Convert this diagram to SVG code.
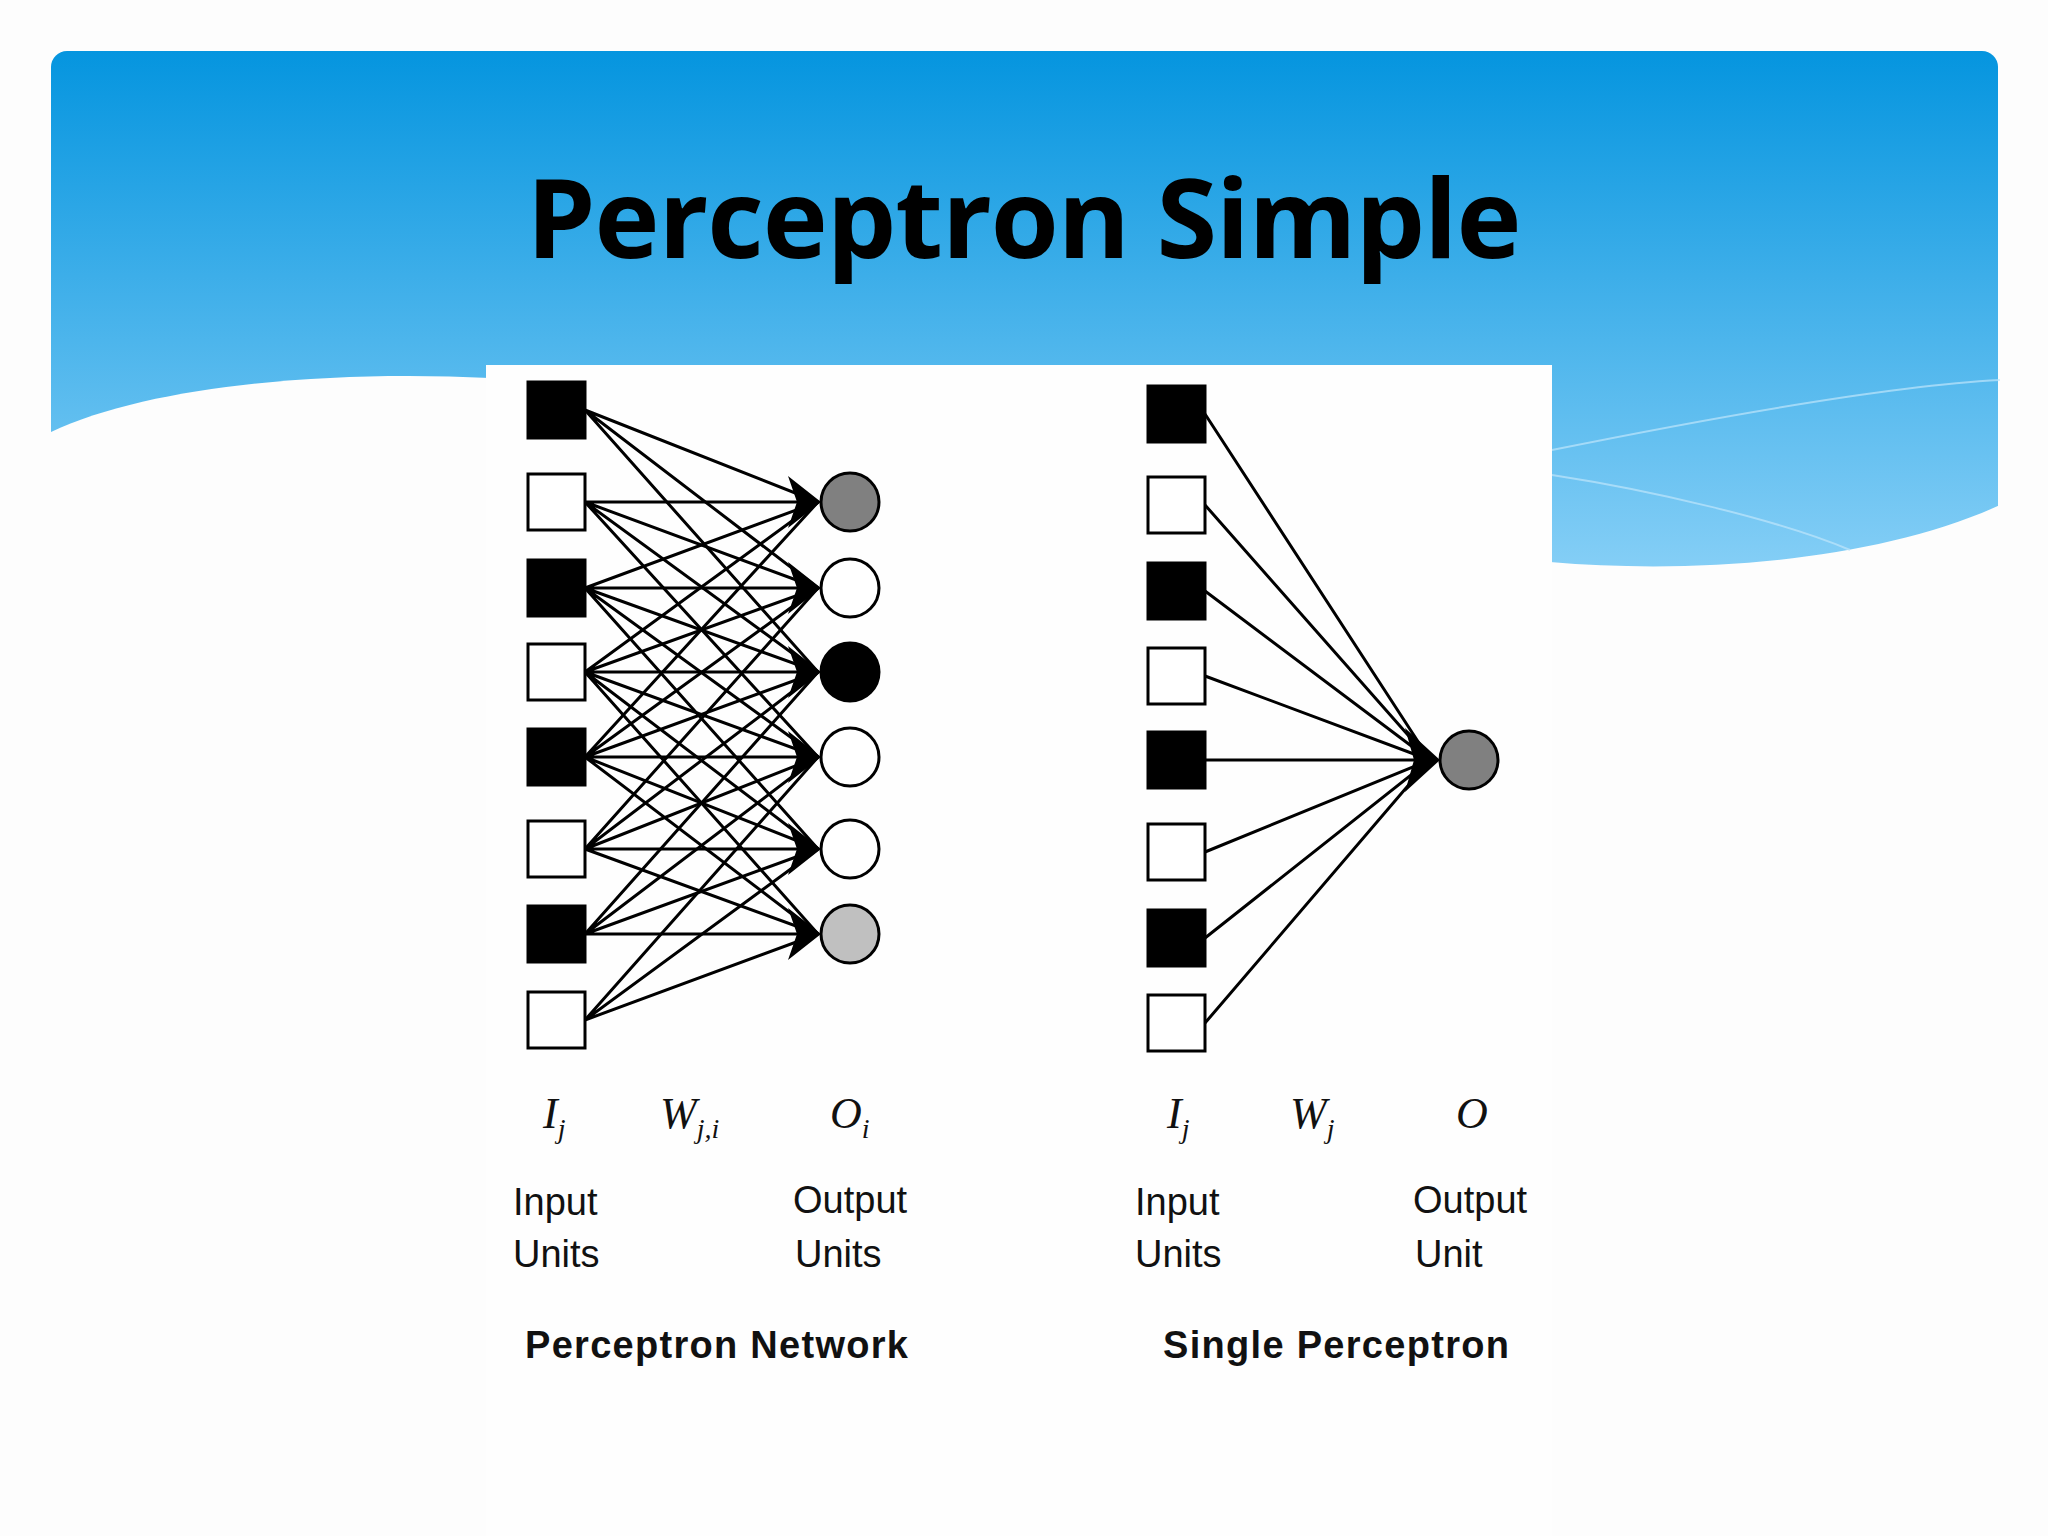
<svg xmlns="http://www.w3.org/2000/svg" width="2048" height="1536" viewBox="0 0 2048 1536">
<defs>
<linearGradient id="bg" x1="0" y1="0" x2="0" y2="1">
<stop offset="0" stop-color="#0595df"/>
<stop offset="1" stop-color="#8fd3f8"/>
</linearGradient>
<style>
.ln{stroke:#000;stroke-width:3;fill:none}
.sq{stroke:#000;stroke-width:3}
.ci{stroke:#000;stroke-width:3}
.it{font-family:"Liberation Serif",serif;font-style:italic;font-size:44px;fill:#111}
.sub{font-family:"Liberation Serif",serif;font-style:italic;font-size:28px;fill:#111}
.lb{font-family:"Liberation Sans",Arial,sans-serif;font-size:38px;fill:#111}
.bd{font-family:"Liberation Sans",Arial,sans-serif;font-weight:bold;font-size:38px;fill:#111}
</style>
</defs>
<rect width="2048" height="1536" fill="#fdfdfd"/>
<rect x="51" y="51" width="1947" height="560" rx="16" fill="url(#bg)"/>
<path d="M51,432 C150,385 330,370 490,378 L490,1536 L51,1536 Z" fill="#fdfdfd"/>
<path d="M1550,562 C1700,575 1880,560 2000,505 L2000,1536 L1550,1536 Z" fill="#fdfdfd"/>
<path d="M1552,450 C1750,410 1900,385 2000,380" stroke="#bfe6fb" stroke-width="2" fill="none" opacity="0.7"/>
<path d="M1552,475 C1650,490 1780,520 1850,550" stroke="#bfe6fb" stroke-width="2" fill="none" opacity="0.7"/>
<rect x="486" y="365" width="1066" height="1171" fill="#fefefe"/>
<text x="1024" y="258" text-anchor="middle" font-family="Open Sans,sans-serif" font-weight="bold" font-size="110" textLength="995" fill="#000">Perceptron Simple</text>

<g id="connectors">
<path class="ln" d="M585,410 L818,502 M585,410 L818,588 M585,410 L818,672"/>
<path class="ln" d="M585,502 L818,502 M585,502 L818,588 M585,502 L818,672 M585,502 L818,757"/>
<path class="ln" d="M585,588 L818,502 M585,588 L818,588 M585,588 L818,672 M585,588 L818,757 M585,588 L818,849"/>
<path class="ln" d="M585,672 L818,502 M585,672 L818,588 M585,672 L818,672 M585,672 L818,757 M585,672 L818,849 M585,672 L818,934"/>
<path class="ln" d="M585,757 L818,502 M585,757 L818,588 M585,757 L818,672 M585,757 L818,757 M585,757 L818,849 M585,757 L818,934"/>
<path class="ln" d="M585,849 L818,588 M585,849 L818,672 M585,849 L818,757 M585,849 L818,849 M585,849 L818,934"/>
<path class="ln" d="M585,934 L818,672 M585,934 L818,757 M585,934 L818,849 M585,934 L818,934"/>
<path class="ln" d="M585,1020 L818,757 M585,1020 L818,849 M585,1020 L818,934"/>
<path class="ln" d="M1205,414 L1430,760 M1205,505 L1430,760 M1205,591 L1430,760 M1205,676 L1430,760 M1205,760 L1430,760 M1205,852 L1430,760 M1205,938 L1430,760 M1205,1023 L1430,760"/>
<g fill="#000">
<path d="M788,476 L821,502 L788,528 L797,502 Z"/>
<path d="M788,562 L821,588 L788,614 L797,588 Z"/>
<path d="M788,646 L821,672 L788,698 L797,672 Z"/>
<path d="M788,731 L821,757 L788,783 L797,757 Z"/>
<path d="M788,823 L821,849 L788,875 L797,849 Z"/>
<path d="M788,908 L821,934 L788,960 L797,934 Z"/>
<path d="M1405,728 L1440,760 L1405,792 L1414,760 Z"/>
</g>
</g>

<g id="net-inputs">
<rect class="sq" x="528" y="382" width="57" height="56" fill="#000"/>
<rect class="sq" x="528" y="474" width="57" height="56" fill="#fff"/>
<rect class="sq" x="528" y="560" width="57" height="56" fill="#000"/>
<rect class="sq" x="528" y="644" width="57" height="56" fill="#fff"/>
<rect class="sq" x="528" y="729" width="57" height="56" fill="#000"/>
<rect class="sq" x="528" y="821" width="57" height="56" fill="#fff"/>
<rect class="sq" x="528" y="906" width="57" height="56" fill="#000"/>
<rect class="sq" x="528" y="992" width="57" height="56" fill="#fff"/>
</g>
<g id="net-outputs">
<circle class="ci" cx="850" cy="502" r="29" fill="#808080"/>
<circle class="ci" cx="850" cy="588" r="29" fill="#fff"/>
<circle class="ci" cx="850" cy="672" r="29" fill="#000"/>
<circle class="ci" cx="850" cy="757" r="29" fill="#fff"/>
<circle class="ci" cx="850" cy="849" r="29" fill="#fff"/>
<circle class="ci" cx="850" cy="934" r="29" fill="#c0c0c0"/>
</g>
<g id="single-inputs">
<rect class="sq" x="1148" y="386" width="57" height="56" fill="#000"/>
<rect class="sq" x="1148" y="477" width="57" height="56" fill="#fff"/>
<rect class="sq" x="1148" y="563" width="57" height="56" fill="#000"/>
<rect class="sq" x="1148" y="648" width="57" height="56" fill="#fff"/>
<rect class="sq" x="1148" y="732" width="57" height="56" fill="#000"/>
<rect class="sq" x="1148" y="824" width="57" height="56" fill="#fff"/>
<rect class="sq" x="1148" y="910" width="57" height="56" fill="#000"/>
<rect class="sq" x="1148" y="995" width="57" height="56" fill="#fff"/>
</g>
<g id="single-output">
<circle class="ci" cx="1469" cy="760" r="29" fill="#808080"/>
</g>

<g id="labels">
<text class="it" x="543" y="1128">I<tspan class="sub" dy="10">j</tspan></text>
<text class="it" x="660" y="1128">W<tspan class="sub" dy="10">j,i</tspan></text>
<text class="it" x="830" y="1128">O<tspan class="sub" dy="10">i</tspan></text>
<text class="it" x="1167" y="1128">I<tspan class="sub" dy="10">j</tspan></text>
<text class="it" x="1290" y="1128">W<tspan class="sub" dy="10">j</tspan></text>
<text class="it" x="1456" y="1128">O</text>
<text class="lb" x="513" y="1215">Input</text>
<text class="lb" x="513" y="1267">Units</text>
<text class="lb" x="793" y="1213">Output</text>
<text class="lb" x="795" y="1267">Units</text>
<text class="lb" x="1135" y="1215">Input</text>
<text class="lb" x="1135" y="1267">Units</text>
<text class="lb" x="1413" y="1213">Output</text>
<text class="lb" x="1415" y="1267">Unit</text>
<text class="bd" x="525" y="1358" textLength="383">Perceptron Network</text>
<text class="bd" x="1163" y="1358" textLength="346">Single Perceptron</text>
</g>
</svg>
